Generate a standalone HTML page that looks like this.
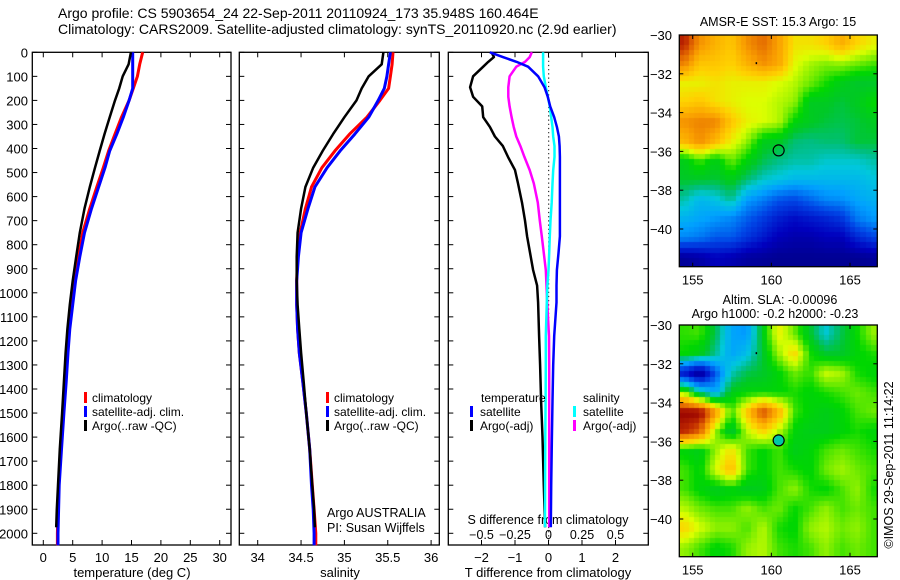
<!DOCTYPE html>
<html><head><meta charset="utf-8">
<style>
html,body{margin:0;padding:0;background:#fff;}
#wrap{position:relative;width:900px;height:580px;overflow:hidden;font-family:"Liberation Sans",sans-serif;}
svg{position:absolute;left:0;top:0;}
canvas{position:absolute;}
text{font-family:"Liberation Sans",sans-serif;font-size:13px;fill:#000;}
</style></head>
<body>
<div id="wrap">
<canvas id="sstmap" width="198" height="232" style="left:679px;top:35px"></canvas>
<canvas id="slamap" width="198" height="232" style="left:679px;top:325px"></canvas>
<svg id="fig" width="900" height="580" xmlns="http://www.w3.org/2000/svg"></svg>
</div>
<script>
// ---- data ----
const depthsClim = [0,50,100,150,200,270,340,410,480,560,650,750,850,950,1050,1150,1250,1370,1500,1650,1800,1900,2000,2050];
const climT = [16.9,16.4,16.0,15.3,14.6,13.3,12.2,11.1,10.2,9.1,7.9,6.7,6.0,5.3,4.9,4.4,4.1,3.7,3.3,2.9,2.6,2.5,2.4,2.4];
const satT  = [15.2,15.2,15.2,15.2,14.6,13.6,12.5,11.3,10.5,9.4,8.2,7.0,6.2,5.5,5.0,4.5,4.2,3.9,3.5,3.1,2.7,2.6,2.5,2.5];
const climS = [35.56,35.55,35.53,35.51,35.41,35.26,35.06,34.89,34.74,34.62,34.55,34.49,34.46,34.45,34.45,34.46,34.48,34.52,34.56,34.60,34.63,34.65,34.67,34.67];
const satS  = [35.53,35.51,35.49,35.46,35.39,35.28,35.12,34.95,34.80,34.66,34.58,34.50,34.47,34.45,34.45,34.46,34.48,34.52,34.56,34.60,34.62,34.64,34.65,34.65];
const depthsArgo = [0,50,100,150,200,270,340,410,480,560,650,750,850,950,1050,1150,1250,1370,1500,1650,1800,1900,1975];
const argoT = [14.9,14.5,13.5,12.9,12.2,11.3,10.4,9.6,8.8,7.9,7.0,6.2,5.6,5.0,4.5,4.1,3.8,3.5,3.2,2.8,2.5,2.3,2.2];
const argoS = [35.45,35.43,35.28,35.20,35.14,35.00,34.87,34.75,34.64,34.55,34.50,34.46,34.45,34.45,34.46,34.48,34.50,34.53,34.56,34.60,34.63,34.65,34.66];
const depthsDiff = [0,20,40,60,100,145,185,225,270,310,350,390,435,490,545,625,700,765,835,905,970,1040,1180,1300,1450,1600,1800,1975];
const tDiffArgo = [-1.7,-1.63,-1.8,-1.95,-2.25,-2.34,-2.25,-1.98,-1.95,-1.75,-1.6,-1.36,-1.21,-1.0,-0.91,-0.79,-0.7,-0.64,-0.55,-0.46,-0.34,-0.31,-0.28,-0.25,-0.22,-0.18,-0.14,-0.1];
const tDiffSat  = [-1.75,-1.36,-0.95,-0.61,-0.31,-0.12,-0.02,0.05,0.17,0.25,0.31,0.33,0.34,0.34,0.34,0.34,0.34,0.34,0.3,0.25,0.24,0.24,0.17,0.14,0.12,0.1,0.08,0.07];
const sDiffArgo = [-0.125,-0.14,-0.175,-0.24,-0.29,-0.30,-0.30,-0.29,-0.275,-0.26,-0.24,-0.21,-0.18,-0.14,-0.11,-0.08,-0.065,-0.05,-0.035,-0.02,-0.015,-0.01,0.004,0.005,0.005,0.005,0.005,0.005];
const sDiffSat  = [-0.04,-0.04,-0.04,-0.04,-0.035,-0.02,-0.005,0.01,0.02,0.03,0.035,0.045,0.045,0.035,0.03,0.024,0.015,0.01,0.005,0,-0.008,-0.013,-0.02,-0.02,-0.022,-0.024,-0.025,-0.026];
const depthTicks = [0,100,200,300,400,500,600,700,800,900,1000,1100,1200,1300,1400,1500,1600,1700,1800,1900,2000];
const tempTicks = [0,5,10,15,20,25,30];
const salTicks = [34,34.5,35,35.5,36];
const tdTicks = [-2,-1,0,1,2];
const sdTicks = [-0.5,-0.25,0,0.25,0.5];
const sdTickLabels = ["-0.5","-0.25","0","0.25","0.5"];
const latTicks = [-30,-32,-34,-36,-38,-40];
const lonTicks = [155,160,165];
const sstGrid = [
[0.95,0.82,0.77,0.74,0.82,0.87,0.80,0.70,0.70,0.72,0.78,0.72,0.68],
[0.84,0.74,0.74,0.72,0.77,0.82,0.79,0.67,0.63,0.61,0.62,0.60,0.58],
[0.68,0.68,0.70,0.68,0.68,0.68,0.66,0.64,0.60,0.56,0.52,0.50,0.50],
[0.72,0.74,0.70,0.68,0.66,0.66,0.64,0.62,0.51,0.51,0.49,0.51,0.55],
[0.82,0.84,0.84,0.74,0.68,0.66,0.64,0.54,0.51,0.49,0.48,0.49,0.51],
[0.76,0.82,0.76,0.68,0.62,0.52,0.51,0.46,0.45,0.46,0.46,0.49,0.49],
[0.52,0.58,0.52,0.60,0.54,0.48,0.45,0.43,0.43,0.41,0.41,0.41,0.43],
[0.50,0.50,0.49,0.52,0.46,0.41,0.39,0.37,0.37,0.37,0.37,0.37,0.39],
[0.43,0.37,0.39,0.44,0.33,0.29,0.24,0.22,0.26,0.30,0.31,0.34,0.36],
[0.36,0.34,0.32,0.30,0.25,0.20,0.15,0.12,0.14,0.16,0.19,0.28,0.32],
[0.30,0.28,0.24,0.24,0.19,0.14,0.09,0.07,0.07,0.09,0.09,0.16,0.21],
[0.04,0.06,0.10,0.08,0.05,0.04,0.03,0.03,0.03,0.03,0.03,0.03,0.04]];
const slaGrid = [
[0.57,0.58,0.48,0.34,0.32,0.52,0.68,0.60,0.50,0.40,0.48,0.55,0.62],
[0.55,0.52,0.44,0.34,0.38,0.50,0.62,0.72,0.56,0.50,0.50,0.54,0.56],
[0.14,0.03,0.24,0.42,0.48,0.50,0.54,0.60,0.57,0.65,0.63,0.56,0.54],
[0.62,0.44,0.34,0.52,0.54,0.54,0.54,0.56,0.54,0.56,0.58,0.60,0.58],
[1.00,1.00,0.82,0.58,0.74,0.92,0.78,0.58,0.54,0.52,0.54,0.58,0.60],
[0.94,0.88,0.62,0.49,0.64,0.72,0.64,0.54,0.52,0.52,0.54,0.56,0.54],
[0.54,0.52,0.62,0.70,0.58,0.54,0.58,0.52,0.54,0.58,0.60,0.58,0.56],
[0.58,0.54,0.66,0.76,0.58,0.54,0.58,0.56,0.54,0.60,0.63,0.60,0.58],
[0.58,0.54,0.51,0.53,0.51,0.52,0.58,0.62,0.56,0.54,0.58,0.62,0.56],
[0.64,0.60,0.58,0.58,0.62,0.58,0.60,0.55,0.58,0.62,0.58,0.60,0.58],
[0.72,0.66,0.62,0.62,0.58,0.64,0.56,0.54,0.62,0.64,0.60,0.62,0.58],
[0.62,0.58,0.54,0.56,0.62,0.64,0.58,0.56,0.58,0.62,0.58,0.60,0.58]];
const argoLon = 160.464, argoLat = -35.948;

// ---- helpers ----
const NS = "http://www.w3.org/2000/svg";
const svg = document.getElementById('fig');
function el(tag, attrs, parent){const e=document.createElementNS(NS,tag);for(const k in attrs)e.setAttribute(k,attrs[k]);(parent||svg).appendChild(e);return e;}
function txt(x,y,s,anchor,size,parent){const t=el('text',{x:x,y:y,'text-anchor':anchor||'start'},parent);if(size)t.style.fontSize=size+'px';t.textContent=s;return t;}

const TOP=52.3, BOT=545, DPX=0.2405;
const yD = d => TOP + d*DPX;
const xT = v => 43.3 + v*5.88;
const xS = v => 257.7 + (v-34)*86.7;
const xTD = v => 548.5 + v*33.5;
const xSD = v => 548.5 + v*134;

function frame(l,r,name){
  const g=el('g',{});
  
  
  el('rect',{x:l,y:TOP,width:r-l,height:BOT-TOP,fill:'none',stroke:'#000','stroke-width':1.3},g);
  depthTicks.forEach(d=>{
    el('line',{x1:l,x2:l+5,y1:yD(d),y2:yD(d),stroke:'#000'},g);
    el('line',{x1:r,x2:r-5,y1:yD(d),y2:yD(d),stroke:'#000'},g);
  });
  return g;
}
function line(xf,xs,ds,color,w,name){
  const pts=xs.map((v,i)=>xf(v).toFixed(1)+','+yD(ds[i]).toFixed(1)).join(' ');
  const p=el('polyline',{points:pts,fill:'none',stroke:color,'stroke-width':w,'stroke-linejoin':'round'});
  
  
}

// titles
const t1=txt(58,18,'Argo profile: CS 5903654_24 22-Sep-2011 20110924_173 35.948S 160.464E','start',14);


const t2=txt(58,34,'Climatology: CARS2009. Satellite-adjusted climatology: synTS_20110920.nc (2.9d earlier)','start',14);



// depth labels
depthTicks.forEach(d=>{const t=txt(28,yD(d)+5,String(d),'end',13);});

// ---- panel 1 temperature ----
const g1=frame(32.3,231,'temperature-panel');
tempTicks.forEach(v=>{
  el('line',{x1:xT(v),x2:xT(v),y1:TOP,y2:TOP+5,stroke:'#000'},g1);
  el('line',{x1:xT(v),x2:xT(v),y1:BOT,y2:BOT-5,stroke:'#000'},g1);
  const t=txt(xT(v),562,String(v),'middle',13);
});
const xl1=txt(132,577,'temperature (deg C)','middle',13);
line(xT,climT,depthsClim,'#ff0000',3,'climatology-temperature-line');
line(xT,satT,depthsClim,'#0000ff',3,'satellite-temperature-line');
line(xT,argoT,depthsArgo,'#000000',2.5,'argo-temperature-line');

// ---- panel 2 salinity ----
const g2=frame(239.3,439.3,'salinity-panel');
salTicks.forEach(v=>{
  el('line',{x1:xS(v),x2:xS(v),y1:TOP,y2:TOP+5,stroke:'#000'},g2);
  el('line',{x1:xS(v),x2:xS(v),y1:BOT,y2:BOT-5,stroke:'#000'},g2);
  const t=txt(xS(v),562,String(v),'middle',13);
});
const xl2=txt(340,577,'salinity','middle',13);
line(xS,climS,depthsClim,'#ff0000',3,'climatology-salinity-line');
line(xS,satS,depthsClim,'#0000ff',3,'satellite-salinity-line');
line(xS,argoS,depthsArgo,'#000000',2.5,'argo-salinity-line');

// legends panels 1 & 2
function legend(x,y,items,name){
  const g=el('g',{});
  
  
  items.forEach((it,i)=>{
    const yy=y+i*14;
    el('rect',{x:x,y:yy-10,width:3,height:11,fill:it[0]},g);
    txt(x+8,yy,it[1],'start',12,g);
  });
}
legend(84,402,[['#ff0000','climatology'],['#0000ff','satellite-adj. clim.'],['#000','Argo(..raw -QC)']],'legend-temperature');
legend(326,402,[['#ff0000','climatology'],['#0000ff','satellite-adj. clim.'],['#000','Argo(..raw -QC)']],'legend-salinity');
const cr=el('g',{});


txt(327,517,'Argo AUSTRALIA','start',12.5,cr);
txt(327,532,'PI: Susan Wijffels','start',12.5,cr);

// ---- panel 3 differences ----
const g3=frame(448.3,648.3,'difference-panel');
tdTicks.forEach(v=>{
  el('line',{x1:xTD(v),x2:xTD(v),y1:TOP,y2:TOP+5,stroke:'#000'},g3);
  el('line',{x1:xTD(v),x2:xTD(v),y1:BOT,y2:BOT-5,stroke:'#000'},g3);
  const t=txt(xTD(v),562,v<0?'\u2212'+Math.abs(v):String(v),'middle',13);
});
sdTicks.forEach((v,i)=>{
  const t=txt(xSD(v),539,sdTickLabels[i].replace('-','\u2212'),'middle',12.5);
});
const st=txt(548,524,'S difference from climatology','middle',12.5);
const xl3=txt(548,577,'T difference from climatology','middle',13);
const zl=el('line',{x1:548.7,x2:548.7,y1:TOP,y2:BOT,stroke:'#000','stroke-dasharray':'1.2,3'});


line(xTD,tDiffArgo,depthsDiff,'#000000',2.5,'argo-temperature-diff-line');
line(xSD,sDiffArgo,depthsDiff,'#ff00ff',2.5,'argo-salinity-diff-line');
line(xSD,sDiffSat,depthsDiff,'#00ffff',2.5,'satellite-salinity-diff-line');
line(xTD,tDiffSat,depthsDiff,'#0000ff',2.5,'satellite-temperature-diff-line');
const lg3=el('g',{});


txt(481,402,'temperature','start',12,lg3);
txt(583,402,'salinity','start',12,lg3);
[['#0000ff','satellite',470,416],['#000','Argo(-adj)',470,430],['#00ffff','satellite',573,416],['#ff00ff','Argo(-adj)',573,430]].forEach(it=>{
  el('rect',{x:it[2],y:it[3]-10,width:3,height:11,fill:it[0]},lg3);
  txt(it[2]+10,it[3],it[1],'start',12,lg3);
});

// ---- maps ----
const ML=679.3, MR=877.3, MH=231.7;
const xLon = lon => 692.7 + (lon-155)*15.73;
const yLat = (lat,top) => top + (-30-lat)*19.4;
const stops=[[0,[0,0,128]],[0.1,[0,0,190]],[0.22,[0,70,230]],[0.33,[0,160,255]],[0.4,[0,200,220]],[0.45,[0,190,130]],[0.5,[0,200,40]],[0.55,[0,215,0]],[0.6,[110,235,0]],[0.66,[220,255,0]],[0.72,[255,210,0]],[0.8,[250,160,0]],[0.88,[225,100,0]],[0.94,[190,40,0]],[1,[150,0,0]]];
function cmap(v){
  v=Math.max(0,Math.min(1,v));
  for(let i=1;i<stops.length;i++){if(v<=stops[i][0]){const a=stops[i-1],b=stops[i],f=(v-a[0])/(b[0]-a[0]);return 'rgb('+a[1].map((c,k)=>Math.round(c+(b[1][k]-c)*f)).join(',')+')';}}
  return 'rgb(150,0,0)';
}
function drawMap(id,grid){
  const c=document.getElementById(id).getContext('2d');
  const W=198,H=232,B=5.2;
  for(let py=0;py<H;py+=B){for(let px=0;px<W;px+=B){
    const lon=154.15+(px+B/2)/15.73, lat=-30-(py+B/2)/19.4;
    let gx=Math.max(0,Math.min(11.999,lon-154.5)), gy=Math.max(0,Math.min(10.999,-30.5-lat));
    const ix=Math.floor(gx),iy=Math.floor(gy),fx=gx-ix,fy=gy-iy;
    const v=grid[iy][ix]*(1-fx)*(1-fy)+grid[iy][ix+1]*fx*(1-fy)+grid[iy+1][ix]*(1-fx)*fy+grid[iy+1][ix+1]*fx*fy;
    c.fillStyle=cmap(v);c.fillRect(Math.floor(px),Math.floor(py),Math.ceil(B)+1,Math.ceil(B)+1);
  }}
}
drawMap('sstmap',sstGrid);
drawMap('slamap',slaGrid);
function mapFrame(top,name,fill){
  const g=el('g',{});
  
  
  el('rect',{x:ML,y:top,width:MR-ML,height:MH,fill:'none',stroke:'#000','stroke-width':1.3},g);
  latTicks.forEach(v=>{
    const y=yLat(v,top);
    el('line',{x1:ML,x2:ML+4,y1:y,y2:y,stroke:'#000'},g);
    el('line',{x1:MR,x2:MR-4,y1:y,y2:y,stroke:'#000'},g);
    txt(672,y+5,'\u2212'+Math.abs(v),'end',13,g);
  });
  lonTicks.forEach(v=>{
    const x=xLon(v);
    el('line',{x1:x,x2:x,y1:top,y2:top+4,stroke:'#000'},g);
    el('line',{x1:x,x2:x,y1:top+MH,y2:top+MH-4,stroke:'#000'},g);
    txt(x,top+MH+18,String(v),'middle',13,g);
  });
  el('circle',{cx:xLon(argoLon),cy:yLat(argoLat,top),r:5.5,fill:fill,stroke:'#000','stroke-width':1.2},g);
  el('rect',{x:xLon(159),y:yLat(-31.4,top),width:1.5,height:2,fill:'#000'},g);
}
mapFrame(35,'sst-map-frame','none');
mapFrame(325,'sla-map-frame','#00c8a8');
const mt1=txt(778,26,'AMSR-E SST: 15.3 Argo: 15','middle',12.5);
const mt2=txt(780,304,'Altim. SLA: -0.00096','middle',12.5);
const mt3=txt(775,318,'Argo h1000: -0.2 h2000: -0.23','middle',12.5);
const cp=txt(0,0,'\u00A9IMOS 29-Sep-2011 11:14:22','middle',12.5);
cp.setAttribute('transform','translate(893,465) rotate(-90)');


</script>
</body></html>
